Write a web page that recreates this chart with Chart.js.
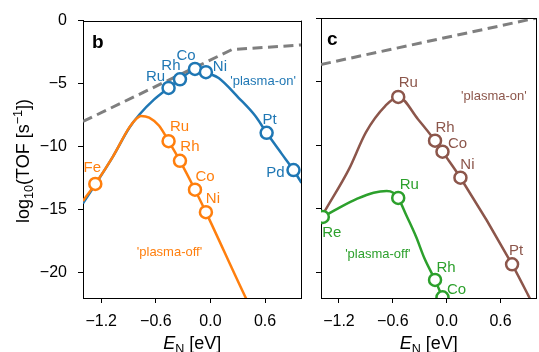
<!DOCTYPE html>
<html>
<head>
<meta charset="utf-8">
<script src="https://cdn.jsdelivr.net/npm/chart.js@4.4.1/dist/chart.umd.min.js"></script>
<style>
  html, body { margin: 0; padding: 0; background: #fff; overflow: hidden; width: 539px; height: 352px; }
  #wrap { position: relative; width: 539px; height: 352px; }
  canvas { position: absolute; top: 0; }
  #chartB { left: 0; }
  #chartC { left: 305px; }
</style>
</head>
<body>
<div id="wrap">
  <canvas id="chartB" width="310" height="352"></canvas>
  <canvas id="chartC" width="240" height="352"></canvas>
</div>
<script>
const FONT = '"Liberation Sans", Arial, Helvetica, sans-serif';

// axis ticks (both panels)
const xTicks = [-1.2, -0.6, 0.0, 0.6];
const yTicks = [0, -5, -10, -15, -20];

// panel b: markers
const bOnMetals = ['Ru', 'Rh', 'Co', 'Ni', 'Pt', 'Pd'];
const bOnEN = [-0.46, -0.335, -0.17, -0.05, 0.617, 0.912];
const bOnTOF = [-5.34, -4.66, -3.83, -4.09, -8.9, -11.85];
const bOffMetals = ['Fe', 'Ru', 'Rh', 'Co', 'Ni'];
const bOffEN = [-1.265, -0.46, -0.335, -0.17, -0.05];
const bOffTOF = [-12.95, -9.56, -11.12, -13.41, -15.19];

// panel b: curves
const bOnCurveX = [-1.4, -1.265, -1.073, -0.891, -0.78, -0.618, -0.46, -0.335, -0.17, -0.115, -0.05, 0.09, 0.309, 0.491, 0.617, 0.781, 0.912, 1.0];
const bOnCurveY = [-14.5, -13.0, -10.8, -8.5, -7.45, -6.25, -5.34, -4.66, -3.83, -3.78, -4.09, -4.56, -6.12, -7.55, -8.9, -10.55, -11.85, -12.87];
const bOffCurveX = [-1.4, -1.265, -1.073, -0.891, -0.818, -0.764, -0.673, -0.564, -0.46, -0.335, -0.17, -0.05, 0.382, 0.45];
const bOffCurveY = [-14.3, -12.95, -10.8, -8.47, -7.81, -7.56, -7.69, -8.34, -9.56, -11.12, -13.41, -15.19, -21.9, -22.9];
const bLimitX = [-1.4, 0.236, 1.0];
const bLimitY = [-8.0, -2.3, -1.93];

// panel c: markers
const cOnMetals = ['Ru', 'Rh', 'Co', 'Ni', 'Pt'];
const cOnEN = [-0.54, -0.13, -0.047, 0.153, 0.728];
const cOnTOF = [-6.2, -9.64, -10.5, -12.55, -19.35];
const cOffMetals = ['Re', 'Ru', 'Rh', 'Co'];
const cOffEN = [-1.38, -0.54, -0.13, -0.047];
const cOffTOF = [-15.63, -14.14, -20.58, -21.95];

// panel c: curves
const cOnCurveX = [-1.4, -1.36, -1.087, -0.9, -0.683, -0.54, -0.32, -0.13, -0.047, 0.153, 0.728, 0.916, 1.0];
const cOnCurveY = [-15.7, -15.2, -11.85, -8.98, -6.9, -6.2, -7.95, -9.64, -10.5, -12.55, -19.35, -21.9, -23.1];
const cOffCurveX = [-1.38, -1.214, -0.996, -0.814, -0.668, -0.596, -0.54, -0.45, -0.341, -0.247, -0.13, -0.047, 0.01];
const cOffCurveY = [-15.63, -14.98, -14.2, -13.73, -13.6, -13.73, -14.14, -15.5, -17.19, -18.9, -20.58, -21.95, -22.9];
const cLimitX = [-1.4, 1.0];
const cLimitY = [-3.65, 0.0];

const BLUE = '#1f77b4', ORANGE = '#ff7f0e', GREEN = '#2ca02c', BROWN = '#8c564b', GRAY = '#7f7f7f';

const toPts = (xs, ys) => xs.map((x, i) => ({ x: x, y: ys[i] }));

function markerSet(xs, ys, color) {
  return {
    data: toPts(xs, ys), showLine: false,
    pointRadius: 6, pointHoverRadius: 6, pointBorderWidth: 2.5,
    pointBackgroundColor: '#fff', pointBorderColor: color, clip: 0
  };
}

function curveSet(xs, ys, color, dash) {
  return {
    data: toPts(xs, ys), showLine: true,
    borderColor: color, borderWidth: dash ? 3 : 2.5, borderDash: dash || [],
    pointRadius: 0, cubicInterpolationMode: dash ? 'default' : 'monotone',
    tension: 0, fill: false, clip: 0
  };
}

function minus(s) { return s.replace('-', '\u2212'); }

// draws text made of parts [text, font, dy], centred on x
function drawParts(ctx, parts, x, y) {
  let w = 0;
  parts.forEach(p => { ctx.font = p[1]; w += ctx.measureText(p[0]).width; });
  let cx = x - w / 2;
  ctx.textAlign = 'left';
  ctx.textBaseline = 'alphabetic';
  parts.forEach(p => {
    ctx.font = p[1];
    ctx.fillText(p[0], cx, y + (p[2] || 0));
    cx += ctx.measureText(p[0]).width;
  });
}

function decor(cfg) {
  return {
    id: 'decor',
    afterDraw(chart) {
      const ctx = chart.ctx, a = chart.chartArea;
      const xs = chart.scales.x, ys = chart.scales.y;
      ctx.save();
      // top and right spines
      ctx.strokeStyle = '#000';
      ctx.lineWidth = 1;
      ctx.beginPath();
      ctx.moveTo(a.left, Math.round(a.top) + 0.5);
      ctx.lineTo(a.right, Math.round(a.top) + 0.5);
      ctx.moveTo(Math.round(a.right) - 0.5, a.top);
      ctx.lineTo(Math.round(a.right) - 0.5, a.bottom);
      ctx.stroke();

      // metal labels
      ctx.textAlign = 'center';
      ctx.textBaseline = 'middle';
      ctx.font = '15px ' + FONT;
      cfg.labels.forEach(g => {
        ctx.fillStyle = g.color;
        g.names.forEach((n, i) => {
          const px = xs.getPixelForValue(g.xs[i]) + g.off[i][0];
          const py = ys.getPixelForValue(g.ys[i]) + g.off[i][1];
          ctx.fillText(n, px, py);
        });
      });

      // 'plasma-on' / 'plasma-off'
      ctx.font = '13px ' + FONT;
      cfg.notes.forEach(t => {
        ctx.fillStyle = t.color;
        ctx.fillText(t.text, xs.getPixelForValue(t.x), ys.getPixelForValue(t.y));
      });

      // panel letter
      ctx.fillStyle = '#000';
      ctx.textAlign = 'left';
      ctx.textBaseline = 'alphabetic';
      ctx.font = 'bold 19px ' + FONT;
      ctx.fillText(cfg.letter, a.left + cfg.letterDx, a.top + 27);

      // x title
      drawParts(ctx, [
        ['E', 'italic 18px ' + FONT],
        ['N', '12.6px ' + FONT, 4],
        [' [eV]', '18px ' + FONT]
      ], (a.left + a.right) / 2, 349);

      // y title
      if (cfg.yTitle) {
        ctx.save();
        ctx.translate(29, 161);
        ctx.rotate(-Math.PI / 2);
        drawParts(ctx, [
          ['log', '18px ' + FONT],
          ['10', '12.6px ' + FONT, 4],
          ['(TOF [s', '18px ' + FONT],
          ['\u22121', '12.6px ' + FONT, -7],
          ['])', '18px ' + FONT]
        ], 0, 0);
        ctx.restore();
      }
      ctx.restore();
    }
  };
}

function makePanel(id, cfg) {
  return new Chart(document.getElementById(id), {
    type: 'scatter',
    data: { datasets: cfg.datasets },
    options: {
      responsive: false,
      animation: false,
      events: [],
      layout: { padding: { top: 18, right: cfg.padRight, left: 0, bottom: 0 } },
      plugins: { legend: { display: false }, tooltip: { enabled: false } },
      scales: {
        x: {
          type: 'linear', min: -1.4, max: 1.0,
          afterBuildTicks: s => { s.ticks = xTicks.map(v => ({ value: v })); },
          afterFit: s => { s.height = 54; },
          grid: { drawOnChartArea: false, drawTicks: true, tickLength: 5, color: '#000' },
          border: { display: true, color: '#000', width: 1 },
          ticks: {
            color: '#000', padding: 9, maxRotation: 0,
            font: { family: FONT, size: 16 },
            callback: v => minus(v.toFixed(1))
          }
        },
        y: {
          type: 'linear', min: -22, max: 0,
          afterBuildTicks: s => { s.ticks = yTicks.map(v => ({ value: v })); },
          afterFit: s => { s.width = cfg.yWidth; },
          grid: { drawOnChartArea: false, drawTicks: true, tickLength: 5, color: '#000' },
          border: { display: true, color: '#000', width: 1 },
          ticks: {
            display: cfg.yLabels, color: '#000', padding: 11,
            font: { family: FONT, size: 16 },
            callback: v => minus(String(Math.round(v)))
          }
        }
      }
    },
    plugins: [decor(cfg)]
  });
}

makePanel('chartB', {
  padRight: 7, yWidth: 83, yLabels: true, yTitle: true, letter: 'b', letterDx: 9,
  datasets: [
    markerSet(bOffEN, bOffTOF, ORANGE),
    markerSet(bOnEN, bOnTOF, BLUE),
    curveSet(bLimitX, bLimitY, GRAY, [10, 5.5]),
    curveSet(bOffCurveX, bOffCurveY, ORANGE),
    curveSet(bOnCurveX, bOnCurveY, BLUE)
  ],
  labels: [
    { names: bOnMetals, xs: bOnEN, ys: bOnTOF, color: BLUE,
      off: [[-13, -11], [-9, -13], [-9, -13], [14, -5], [3, -13], [-18, 3]] },
    { names: bOffMetals, xs: bOffEN, ys: bOffTOF, color: ORANGE,
      off: [[-3, -16], [11, -14], [10, -14], [10, -13], [7, -13]] }
  ],
  notes: [
    { text: "'plasma-on'", x: 0.578, y: -4.8, color: BLUE },
    { text: "'plasma-off'", x: -0.45, y: -18.38, color: ORANGE }
  ]
});

makePanel('chartC', {
  padRight: 4, yWidth: 16, yLabels: false, yTitle: false, letter: 'c', letterDx: 6,
  datasets: [
    markerSet(cOffEN, cOffTOF, GREEN),
    markerSet(cOnEN, cOnTOF, BROWN),
    curveSet(cLimitX, cLimitY, GRAY, [10, 5.5]),
    curveSet(cOffCurveX, cOffCurveY, GREEN),
    curveSet(cOnCurveX, cOnCurveY, BROWN)
  ],
  labels: [
    { names: cOnMetals, xs: cOnEN, ys: cOnTOF, color: BROWN,
      off: [[10, -14], [10, -13], [15, -8], [7, -13], [4, -13]] },
    { names: cOffMetals, xs: cOffEN, ys: cOffTOF, color: GREEN,
      off: [[9, 16], [11, -13], [11, -12], [14, -8]] }
  ],
  notes: [
    { text: "'plasma-on'", x: 0.526, y: -6.2, color: BROWN },
    { text: "'plasma-off'", x: -0.767, y: -18.58, color: GREEN }
  ]
});
</script>
</body>
</html>
